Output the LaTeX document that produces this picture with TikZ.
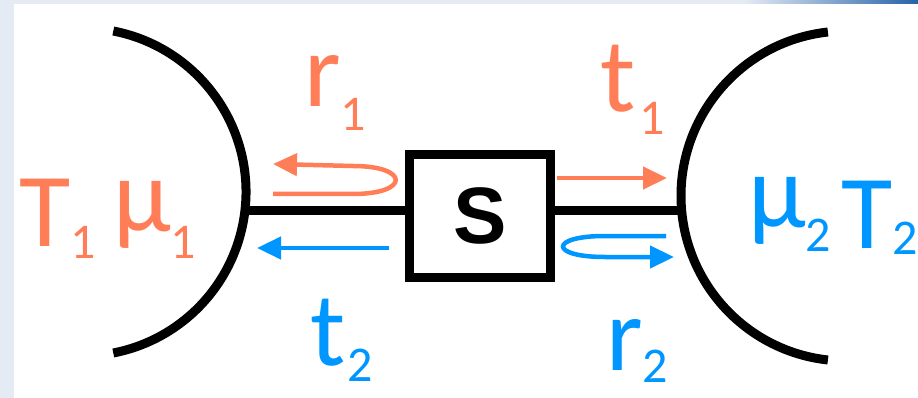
\documentclass[tikz,border=0pt]{standalone}
\usepackage{fontspec}
\setmainfont{Carlito}
\newfontfamily\boxfont{Liberation Sans}
\usetikzlibrary{arrows.meta,positioning,calc}
\definecolor{heat}{RGB}{255,126,87}
\definecolor{cold}{RGB}{0,150,255}
\definecolor{frame}{RGB}{229,235,245}
\definecolor{slide}{RGB}{38,98,168}
\newcommand\subfnt{\fontsize{50}{50}\selectfont}
\begin{document}
\begin{tikzpicture}[
  x=1pt, y=-1pt,
  wire/.style={line width=9pt},
  flow/.style={line width=4.5pt, -{Triangle[length=24pt,width=22pt]}},
  lbl/.style={anchor=base west, inner sep=0pt, font=\fontsize{105}{105}\selectfont},
  sbox/.style={draw, line width=9pt, minimum width=141.5pt, minimum height=122pt,
               inner sep=0pt, font=\boxfont\bfseries\fontsize{80}{80}\selectfont}
]
  \useasboundingbox (0,0) rectangle (918,398);
  % slide frame
  \fill[frame] (0,0) rectangle (918,398);
  \fill[white] (14,4) rectangle (918,398);
  \shade[left color=frame, right color=slide] (744,0) rectangle (918,4);
  % reservoirs and scatterer
  \coordinate (lbath) at (82,192);
  \coordinate (rbath) at (846,196);
  \draw[wire] (lbath) ++(79:164pt) arc[start angle=79, end angle=-79, radius=164pt];
  \draw[wire] (rbath) ++(96.3:165pt) arc[start angle=96.3, end angle=263.7, radius=165pt];
  \node[sbox] (scat) at (480,216) {S};
  \coordinate (lwire) at (245,210.5);
  \coordinate (rwire) at (681.5,210.5);
  \draw[wire] (lwire) -- (lwire -| scat.west);
  \draw[wire] (rwire -| scat.east) -- (rwire);
  % transmission and reflection
  \coordinate (r1from) at (273,194);
  \coordinate (r1to) at (273,164);
  \draw[flow, heat] (r1from) -- ++(80,0) .. controls +(57,0) and +(57,0) .. ++(0,-28) -- (r1to);
  \coordinate (t1from) at (557,178);
  \coordinate (t1to) at (667,178);
  \draw[flow, heat] (t1from) -- (t1to);
  \coordinate (t2from) at (389,248);
  \coordinate (t2to) at (257,248);
  \draw[flow, cold] (t2from) -- (t2to);
  \coordinate (r2from) at (666,236);
  \coordinate (r2to) at (674,257);
  \draw[flow, cold] (r2from) -- ++(-61,0) .. controls +(-56,0) and +(-56,0) .. ++(0,21) -- (r2to);
  % labels
  \node[lbl, heat] (r1) at (304,107) {r\raisebox{-24pt}{\subfnt 1}};
  \node[lbl, heat] (t1) at (600,112) {t\kern4pt\raisebox{-23pt}{\subfnt 1}};
  \node[lbl, cold] (t2) at (310,365) {t\kern2pt\raisebox{-16pt}{\subfnt 2}};
  \node[lbl, cold] (r2) at (606,370) {r\raisebox{-12pt}{\subfnt 2}};
  \node[lbl, heat] (T1) at (19,247) {T\raisebox{-12pt}{\subfnt 1}};
  \node[lbl, heat] (mu1) at (113,231) {μ\raisebox{-28pt}{\subfnt 1}};
  \node[lbl, cold] (mu2) at (748,228) {μ\raisebox{-24pt}{\subfnt 2}};
  \node[lbl, cold] (T2) at (841,248) {T\raisebox{-6pt}{\subfnt 2}};
\end{tikzpicture}
\end{document}
